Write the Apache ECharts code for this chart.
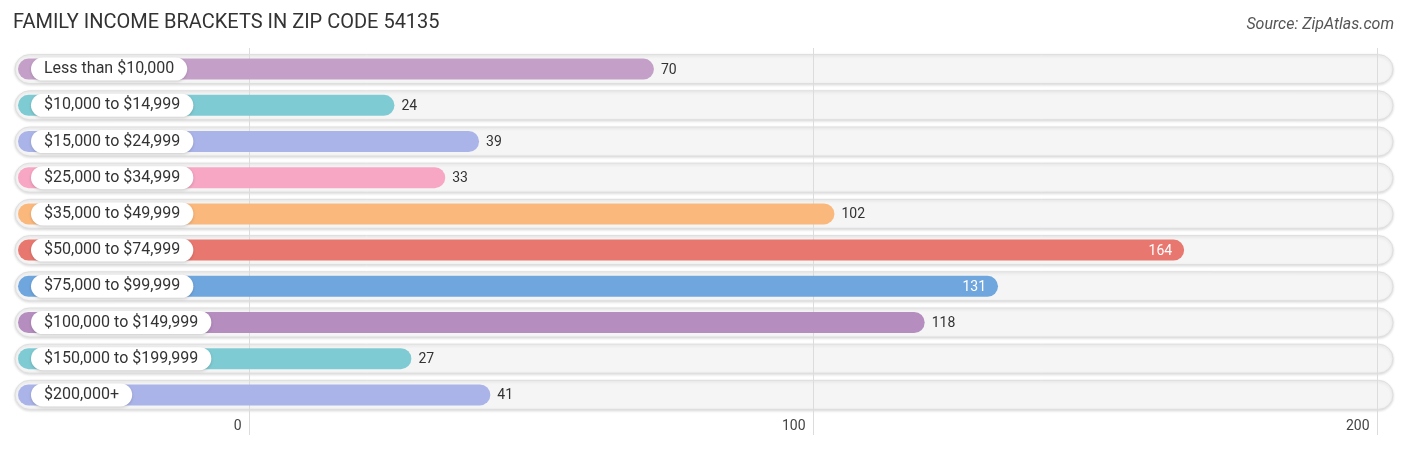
<!DOCTYPE html>
<html>
<head>
<meta charset="utf-8">
<script src="https://cdn.jsdelivr.net/npm/echarts@6/dist/echarts.min.js"></script>
<style>
  html, body { margin: 0; padding: 0; background: #fff; }
  #main { width: 1406px; height: 450px; }
</style>
</head>
<body>
<div id="main"></div>
<script type="text/javascript">
    var categories = ['Less than $10,000', '$10,000 to $14,999', '$15,000 to $24,999', '$25,000 to $34,999',
        '$35,000 to $49,999', '$50,000 to $74,999', '$75,000 to $99,999', '$100,000 to $149,999',
        '$150,000 to $199,999', '$200,000+'];
    var values = [70, 24, 39, 33, 102, 164, 131, 118, 27, 41];
    var colors = ['#c4a0c9', '#7fcbd3', '#aab4e8', '#f7a6c3', '#fbb87c',
        '#e8776f', '#6fa6de', '#b58dbf', '#7fcbd3', '#aab4e8'];
    var ticks = [0, 100, 200];

    var xMin = -41.5, xMax = 202.8;

    var myChart = echarts.init(document.getElementById('main'));

    // background tracks
    function renderTrack(params, api) {
        var y = api.coord([0, api.value(0)])[1];
        var x0 = api.coord([xMin, 0])[0];
        var x1 = api.coord([xMax, 0])[0];
        var h = 29;
        return {
            type: 'rect',
            shape: { x: x0, y: y - h / 2, width: x1 - x0, height: h, r: h / 2 },
            style: {
                fill: '#f5f5f5', stroke: '#dedede', lineWidth: 1,
                shadowBlur: 3, shadowColor: 'rgba(0,0,0,0.14)', shadowOffsetY: 1
            }
        };
    }

    // vertical grid lines + tick labels
    function renderGrid(params, api) {
        var v = api.value(0);
        var x = Math.round(api.coord([v, 0])[0]) + 0.5;
        var top = params.coordSys.y;
        var bottom = params.coordSys.y + params.coordSys.height;
        return {
            type: 'group',
            children: [{
                type: 'line',
                shape: { x1: x, y1: top - 3, x2: x, y2: bottom + 22 },
                style: { stroke: '#dcdcdc', lineWidth: 1 }
            }, {
                type: 'text',
                x: x - 8, y: bottom + 13,
                style: {
                    text: String(v), fill: '#444', font: '14px Roboto',
                    align: 'right', verticalAlign: 'middle'
                }
            }]
        };
    }

    // coloured bars, category pill and value label
    function renderBar(params, api) {
        var i = api.value(0);
        var v = api.value(1);
        var y = api.coord([0, i])[1];
        var xs = api.coord([xMin, 0])[0] + 3;
        var xe = api.coord([v, 0])[0] + 10;
        var h = 21;
        var inside = v > 125;
        return {
            type: 'group',
            children: [{
                type: 'rect',
                shape: { x: xs, y: y - h / 2, width: xe - xs, height: h, r: h / 2 },
                style: { fill: colors[i] }
            }, {
                type: 'text',
                x: xs + 13, y: y,
                style: {
                    text: categories[i], fill: '#333', font: '16px Roboto',
                    verticalAlign: 'middle', align: 'left',
                    backgroundColor: '#fff', borderRadius: 12, padding: [4, 13, 3, 13],
                    shadowBlur: 3, shadowColor: 'rgba(0,0,0,0.18)', shadowOffsetY: 1
                }
            }, {
                type: 'text',
                x: inside ? xe - 12 : xe + 7, y: y + 1,
                style: {
                    text: String(v), fill: inside ? '#fff' : '#333', font: '14px Roboto',
                    align: inside ? 'right' : 'left', verticalAlign: 'middle'
                }
            }]
        };
    }

    var barData = values.map(function (v, i) { return [i, v]; });
    var trackData = categories.map(function (c, i) { return [i]; });
    var gridData = ticks.map(function (t) { return [t]; });

    myChart.setOption({
        animation: false,
        title: [{
            text: 'FAMILY INCOME BRACKETS IN ZIP CODE 54135',
            left: 13, top: 13, padding: 0,
            textStyle: { fontFamily: 'Roboto', fontSize: 20, fontWeight: 'normal', color: '#333' }
        }, {
            text: 'Source: ZipAtlas.com',
            right: 12, top: 17, padding: 0,
            textStyle: { fontFamily: 'Roboto', fontSize: 16, fontStyle: 'italic', fontWeight: 'normal', color: '#555' }
        }],
        grid: { left: 15, right: 13, top: 51, height: 362, containLabel: false },
        xAxis: { type: 'value', min: xMin, max: xMax, show: false },
        yAxis: { type: 'category', data: categories, inverse: true, show: false },
        series: [{
            type: 'custom', z: 1, renderItem: renderTrack,
            encode: { y: 0 }, data: trackData
        }, {
            type: 'custom', z: 2, renderItem: renderGrid,
            encode: { x: 0 }, data: gridData
        }, {
            type: 'custom', z: 3, renderItem: renderBar,
            encode: { y: 0, x: 1 }, data: barData
        }]
    });
</script>
</body>
</html>
